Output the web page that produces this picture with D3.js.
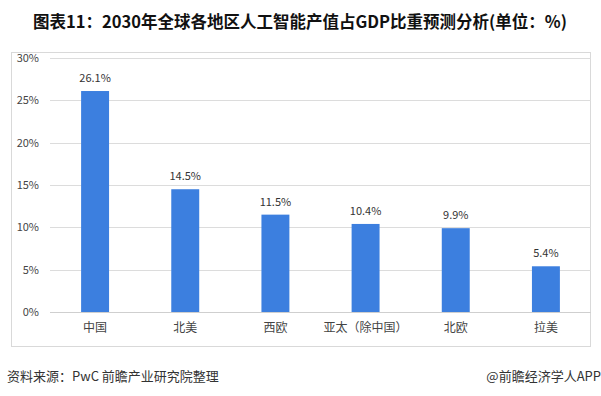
<!DOCTYPE html>
<html>
<head>
<meta charset="utf-8">
<script src="https://cdn.jsdelivr.net/npm/d3@7"></script>
<style>
  body { margin: 0; background: #fff; }
  text { font-family: "Noto Sans CJK SC", "Microsoft YaHei", sans-serif; }
</style>
</head>
<body>
<svg id="chart" width="601" height="396"></svg>
<script>
const regions = ["中国", "北美", "西欧", "亚太（除中国）", "北欧", "拉美"]
const shares = [26.1, 14.5, 11.5, 10.4, 9.9, 5.4]
const yTicks = [0, 5, 10, 15, 20, 25, 30]

const svg = d3.select('#chart')
const margin = { top: 58, right: 10, bottom: 84, left: 50 }
const W = 601, H = 396

// title
svg.append('text')
    .attr('x', 300).attr('y', 28)
    .attr('text-anchor', 'middle')
    .style('font-size', '16.5px')
    .style('font-weight', 'bold')
    .style('fill', '#111')
    .text('图表11：2030年全球各地区人工智能产值占GDP比重预测分析(单位：%)')

// chart frame
svg.append('rect')
    .attr('x', 11.5).attr('y', 52.5)
    .attr('width', 579).attr('height', 294)
    .attr('fill', 'none')
    .attr('stroke', '#d9d9d9')

const x = d3.scaleBand()
    .domain(regions)
    .range([margin.left, W - margin.right])
    .paddingInner(0.69)
    .paddingOuter(0.345)

const y = d3.scaleLinear()
    .domain([0, 30])
    .range([H - margin.bottom, margin.top])

// gridlines
svg.append('g')
    .selectAll('line')
    .data(yTicks)
    .join('line')
    .attr('x1', margin.left)
    .attr('x2', W - margin.right)
    .attr('y1', d => Math.round(y(d)) + 0.5)
    .attr('y2', d => Math.round(y(d)) + 0.5)
    .attr('stroke', d => d == 0 ? '#cfcfcf' : '#dcdcdc')

// y axis labels
const yAxis = svg.append('g')
    .attr('transform', `translate(${margin.left},0)`)
    .call(d3.axisLeft(y).tickValues(yTicks).tickFormat(d => d + '%').tickSize(0).tickPadding(11))
yAxis.select('.domain').remove()
yAxis.selectAll('text')
    .style('font-size', '11px')
    .style('fill', '#444')
    .style('font-family', '"Noto Sans CJK SC", sans-serif')

// bars
svg.append('g')
    .selectAll('rect')
    .data(shares)
    .join('rect')
    .attr('x', (d, i) => x(regions[i]))
    .attr('y', d => y(d))
    .attr('width', x.bandwidth())
    .attr('height', d => y(0) - y(d))
    .attr('fill', '#3c7fdf')

// value labels
svg.append('g')
    .selectAll('text')
    .data(shares)
    .join('text')
    .attr('x', (d, i) => x(regions[i]) + x.bandwidth() / 2)
    .attr('y', d => y(d) - 9)
    .attr('text-anchor', 'middle')
    .style('font-size', '11px')
    .style('fill', '#333')
    .text(d => d.toFixed(1) + '%')

// category labels
const xAxis = svg.append('g')
    .attr('transform', `translate(0,${H - margin.bottom})`)
    .call(d3.axisBottom(x).tickSize(0).tickPadding(11))
xAxis.select('.domain').remove()
xAxis.selectAll('text')
    .style('font-size', '12px')
    .style('fill', '#444')
    .style('font-family', '"Noto Sans CJK SC", sans-serif')

// footer
svg.append('text')
    .attr('x', 7).attr('y', 381)
    .style('font-size', '13px')
    .style('fill', '#333')
    .text('资料来源：PwC 前瞻产业研究院整理')

svg.append('text')
    .attr('x', 601).attr('y', 381)
    .attr('text-anchor', 'end')
    .style('font-size', '13px')
    .style('fill', '#333')
    .text('@前瞻经济学人APP')
</script>
</body>
</html>
